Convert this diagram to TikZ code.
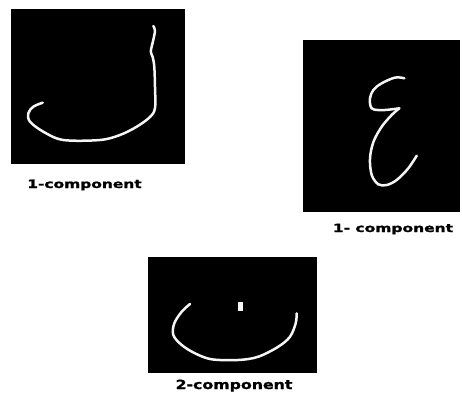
\documentclass[tikz,border=0pt]{standalone}
\usepackage{fontspec}
\usepackage{graphicx}
\setmainfont{DejaVu Sans}
\newfontfamily\lblfont{DejaVu Sans Bold}[FakeBold=1.2]
\begin{document}
\begin{tikzpicture}[x=1pt,y=-1pt,
  panel/.style={fill=black,draw=none},
  stroke/.style={draw=white!96!black,line width=2.5pt,line cap=round,line join=round},
  lbl/.style={inner sep=0pt,anchor=base,text=black}]
\useasboundingbox (0,0) rectangle (462,396);
\fill[white] (0,0) rectangle (462,396);
% panels
\path[panel] (11,9) rectangle (185,164);
\path[panel] (303,40) rectangle (460,212);
\path[panel] (148,257) rectangle (317,373);
% letter lam
\draw[stroke] plot[smooth,tension=0.55] coordinates {(153.3,26) (155,30.5) (153.3,40) (150.8,51.5) (152.7,57) (154.3,67) (155,87) (155,108) (150,117) (136.7,126.7) (120,135) (100,140) (63.3,140) (43.3,131.7) (30,121.7) (28.3,113.3) (33.3,106.7) (42.7,102.7)};
% letter ain
\draw[stroke] plot[smooth,tension=0.6] coordinates {(404.3,78.3) (395,77.6) (381.7,83.3) (373.3,90) (370,98.3) (370.5,106) (374,109.5) (385,110) (399.3,108.3)};
\draw[stroke] plot[smooth,tension=0.55] coordinates {(399.3,108.3) (391.7,115) (381.7,126.7) (373.5,141.7) (370,158.3) (371.7,175) (378.3,184.3) (386.7,185) (396.7,180) (408.3,168.3) (416.7,155.7)};
% letter ba
\draw[stroke] plot[smooth,tension=0.55] coordinates {(190,304) (181.7,311.7) (174.3,323.3) (173.3,335) (181.7,345) (195,353.3) (211.7,359.3) (238.3,360) (258.3,356.7) (278.3,346.7) (290,336.7) (295.7,323.3) (296.7,313.3)};
\fill[white!96!black] (237.7,302.3) rectangle (242.5,310.7);
% labels
\node[lbl] (l1) at (84.5,188) {\scalebox{1.33}[1]{\fontsize{11.6}{13}\lblfont 1-component}};
\node[lbl] (l2) at (393,232) {\scalebox{1.37}[1]{\fontsize{11.3}{13}\lblfont 1- component}};
\node[lbl] (l3) at (234,389) {\scalebox{1.25}[1]{\fontsize{12.6}{14}\lblfont 2-component}};
\end{tikzpicture}
\end{document}
